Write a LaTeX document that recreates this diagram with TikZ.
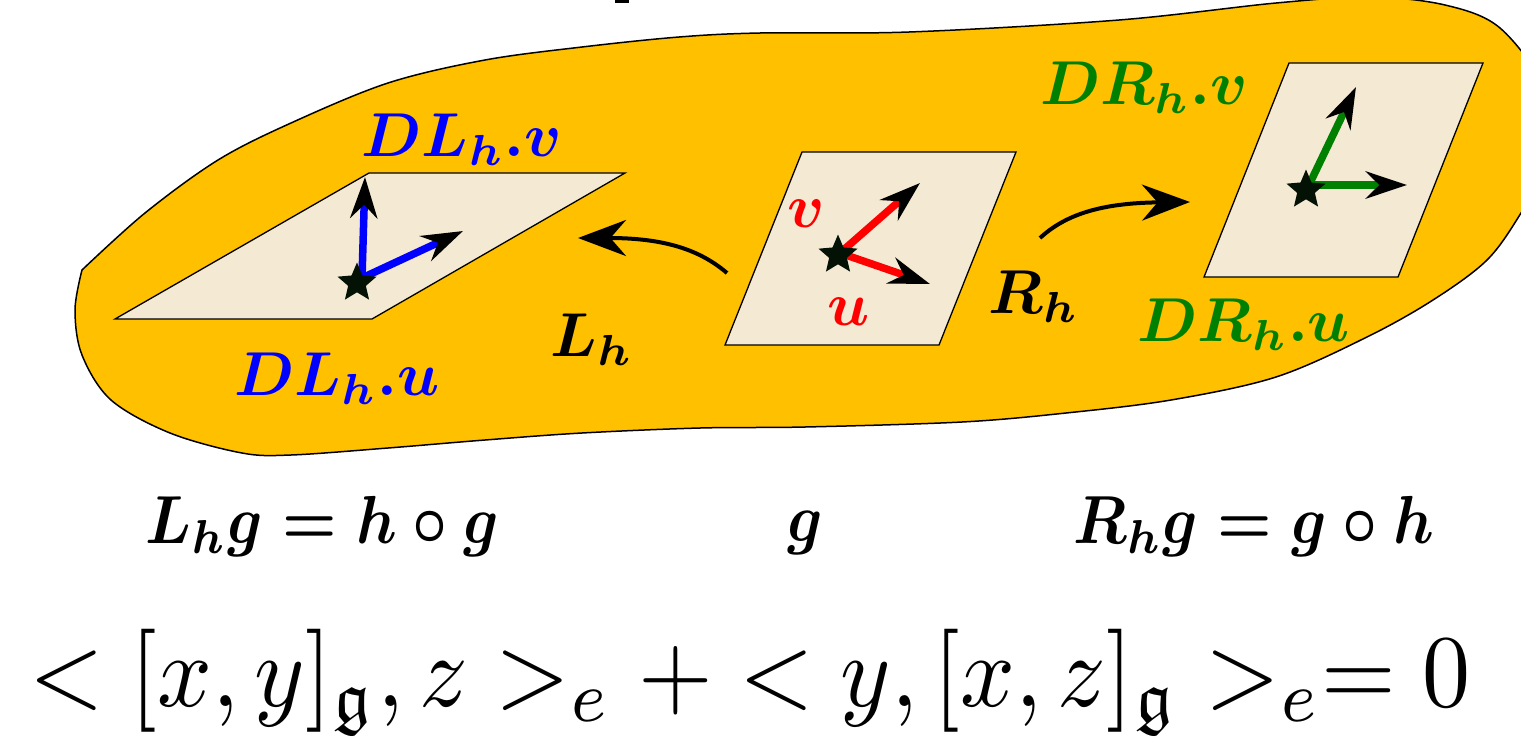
\documentclass[tikz,border=0pt]{standalone}
\usepackage{amssymb}
\usetikzlibrary{shapes.geometric,arrows.meta,positioning}
\definecolor{blobgold}{RGB}{255,192,0}
\definecolor{planetan}{RGB}{244,233,210}
\definecolor{stardark}{RGB}{4,18,6}
\definecolor{dgreen}{RGB}{0,128,0}

\begin{document}
\begin{tikzpicture}[
    x=1pt, y=-1pt,
    plane/.style={draw=black, line width=1.3pt, fill=planetan},
    basept/.style={star, star points=5, star point ratio=2.2, fill=stardark,
                   minimum size=41pt, inner sep=0pt},
    vec/.style={line width=7.5pt, -{Stealth[length=41pt, width=27pt, black]}},
    maparrow/.style={line width=4pt, -{Stealth[length=48pt, width=36pt]}},
    lbl/.style={font=\boldmath, inner sep=0pt, scale=6.2},
    formula/.style={font=\boldmath, inner sep=0pt, xscale=6.1, yscale=6.8}
]
\useasboundingbox (0,0) rectangle (1521,737);
\clip (0,0) rectangle (1521,737);

% Group manifold
\draw[fill=blobgold, line width=1.5pt] plot[smooth, tension=0.55] coordinates {
    (82,270) (145,213) (218,160) (291,123) (388,83) (485,60) (582,47) (679,37)
    (760,33) (909,32) (1119,20) (1276,3) (1370,-3) (1445,5) (1500,28)
    (1545,90) (1550,160) (1521,213) (1487,260) (1433,300) (1367,337) (1276,377)
    (1171,400) (1066,413) (962,422) (805,427) (700,428) (582,433) (485,440)
    (388,448) (291,455) (242,453) (170,433) (111,400) (82,355) (75,310)
    (82,270)} -- cycle;
\draw[line width=3pt] (615,1.5) -- (629,1.5);

% Tangent planes
\draw[plane] (115,319) -- (372,319) -- (625,173) -- (369,173) -- cycle;
\draw[plane] (725,345) -- (939,345) -- (1016,152) -- (802,152) -- cycle;
\draw[plane] (1204,277) -- (1398,277) -- (1483,63) -- (1289,63) -- cycle;

% Vectors
\coordinate (ol) at (362,278);
\coordinate (lv) at (365,177);
\coordinate (lu) at (463,231);
\coordinate (om) at (840,253);
\coordinate (mv) at (920,183);
\coordinate (mu) at (930,284);
\coordinate (or) at (1309,185);
\coordinate (rv) at (1356,87);
\coordinate (ru) at (1407,185);

\draw[vec, blue] (ol) -- (lv);
\draw[vec, blue] (ol) -- (lu);
\draw[vec, red] (om) -- (mv);
\draw[vec, red] (om) -- (mu);
\draw[vec, dgreen] (or) -- (rv);
\draw[vec, dgreen] (or) -- (ru);

\node[basept] (hg) at (357,283) {};
\node[basept] (g) at (838,255) {};
\node[basept] (gh) at (1306,190) {};

% Left and right translations
\coordinate (lstart) at (727,273);
\coordinate (lend) at (578,238);
\coordinate (rstart) at (1040,238);
\coordinate (rend) at (1190,202);
\draw[maparrow] (lstart) .. controls (700,250) and (665,238) .. (lend);
\draw[maparrow] (rstart) .. controls (1065,215) and (1100,203) .. (rend);

% Labels
\node[lbl, text=blue] (dlv) at (462,140) {$DL_h.v$};
\node[lbl, text=blue] (dlu) at (337,379) {$DL_h.u$};
\node[lbl] (lh) at (592,340) {$L_h$};
\node[lbl, text=red] (v) at (806,214) {$v$};
\node[lbl, text=red] (u) at (849,312) {$u$};
\node[lbl] (rh) at (1034,297) {$R_h$};
\node[lbl, text=dgreen] (drv) at (1144,88) {$DR_h.v$};
\node[lbl, text=dgreen] (dru) at (1244,325) {$DR_h.u$};

% Points
\node[formula] (lhg) at (322,526) {$L_hg=h\circ g$};
\node[formula] (gpt) at (805,533) {$g$};
\node[formula] (rhg) at (1254,526) {$R_hg=g\circ h$};

% Ad-invariance
\node[inner sep=0pt, xscale=9.6, yscale=10.3, anchor=base] (adinv) at (750,706)
     {$<[x,y]_{\mathfrak{g}},z>_e+<y,[x,z]_{\mathfrak{g}}>_e=0$};

\end{tikzpicture}
\end{document}
